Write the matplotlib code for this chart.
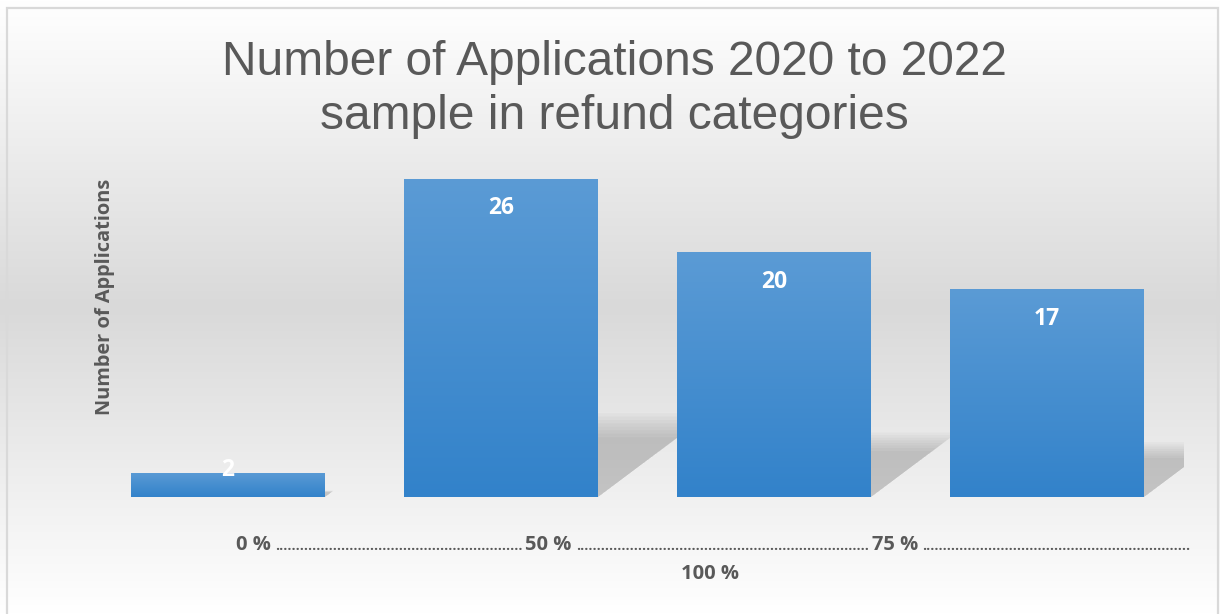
import numpy as np
import matplotlib.pyplot as plt
from matplotlib.colors import LinearSegmentedColormap
from matplotlib.patches import Polygon, Rectangle

# refund categories and application counts
categories = ['0 %', '50 %', '75 %', '100 %']
applications = [2, 26, 20, 17]

title = 'Number of Applications 2020 to 2022\nsample in refund categories'
y_title = 'Number of Applications'
# the category axis title is one dotted leader line, wrapped before "100 %"
x_title_pieces = [('0 %', 'word'), ('.' * 60, 'dots'), ('50 %', 'word'),
                  ('.' * 71, 'dots'), ('75 %', 'word'), ('.' * 65, 'dots')]
x_title_wrap = '100 %'

text_grey = '#595959'
label_font = 'Open Sans'

fig = plt.figure(figsize=(12.2, 6.14), dpi=100)
W, H = 1220, 614

# chart area background: white - grey - white vertical gradient
bg = fig.add_axes([0, 0, 1, 1], zorder=-10)
bg_cmap = LinearSegmentedColormap.from_list('bg', ['#ffffff', '#d9d9d9', '#ffffff'])
bg.imshow(np.linspace(0, 1, 256).reshape(-1, 1), cmap=bg_cmap, aspect='auto',
          extent=(0, 1, 0, 1), origin='upper')
bg.add_patch(Rectangle((7 / W, -0.01), (1218 - 7) / W, (614 - 8) / H + 0.01,
                       fill=False, edgecolor='#d9d9d9', linewidth=1.6,
                       transform=bg.transAxes))
bg.set_xlim(0, 1)
bg.set_ylim(0, 1)
bg.axis('off')

# plot area
ax = fig.add_axes([91.5 / W, (H - 497) / H, 1092 / W, 343 / H])
ax.patch.set_visible(False)
x = np.arange(len(categories))
width = 0.71
ax.set_xlim(-0.5, len(categories) - 0.5)
ax.set_ylim(0, 28)

# soft floor shadows behind each bar
for xi, h in zip(x, applications):
    xl, xr = xi - width / 2, xi + width / 2
    for s in np.linspace(0.8, 1.12, 8):
        dx, dy = 0.0141 * h * s, 0.235 * h * s
        ax.add_patch(Polygon([(xl, 0), (xr, 0), (xr + dx, dy), (xl + dx, dy)],
                             closed=True, facecolor='#333333', edgecolor='none',
                             alpha=0.03, zorder=1))

bars = ax.bar(x, applications, width=width, color='#4a8fd3', zorder=2)

# vertical blue gradient inside each bar
bar_cmap = LinearSegmentedColormap.from_list('bar', ['#5b9bd5', '#3282ca'])
grad = np.linspace(0, 1, 256).reshape(-1, 1)
for b in bars:
    im = ax.imshow(grad, cmap=bar_cmap, aspect='auto', origin='upper', zorder=3,
                   extent=(b.get_x(), b.get_x() + b.get_width(), 0, b.get_height()))
    im.set_clip_path(b)

# value labels at the inside end of the bars
for xi, h in zip(x, applications):
    bar_px = h * 343 / 28
    off = -30 if bar_px > 40 else 2
    ax.annotate(str(h), (xi, h), xytext=(0, off * 0.72), textcoords='offset points',
                ha='center', va='center', color='white', fontsize=16.5,
                fontweight='bold', family=label_font, zorder=5)

ax.set_xticks([])
ax.set_yticks([])
for sp in ax.spines.values():
    sp.set_visible(False)

fig.text(614 / W, 1 - 40 / H, title, ha='center', va='top', color=text_grey,
         fontsize=34.5, family='Liberation Sans', linespacing=1.25)
fig.text(105 / W, 1 - 297 / H, y_title, rotation=90, ha='center', va='center',
         color=text_grey, fontsize=14.4, fontweight='bold', family=label_font)

# pick the leader-dot size whose spacing comes closest to ~4 px per dot
renderer = fig.canvas.get_renderer()
probe = fig.text(0, 0, '.' * 60, fontweight='bold', family=label_font)
best, best_err = 10.1, 1e9
for fs in np.arange(9.6, 11.6, 0.05):
    probe.set_fontsize(fs)
    err = abs(probe.get_window_extent(renderer).width / 60 - 4.02)
    if err < best_err:
        best, best_err = fs, err
probe.remove()

# lay the dotted axis title out piece by piece
cur = 236
y_line = 1 - 550 / H
for s, kind in x_title_pieces:
    t = fig.text(cur / W, y_line, s, ha='left', va='baseline', color=text_grey,
                 fontsize=14.5 if kind == 'word' else best, fontweight='bold',
                 family=label_font)
    cur = t.get_window_extent(renderer).x1 + (4 if kind == 'word' else 3)
fig.text(710 / W, 1 - 574 / H, x_title_wrap, ha='center', va='center',
         color=text_grey, fontsize=14.5, fontweight='bold', family=label_font)

fig.savefig('out.png', dpi=100)
